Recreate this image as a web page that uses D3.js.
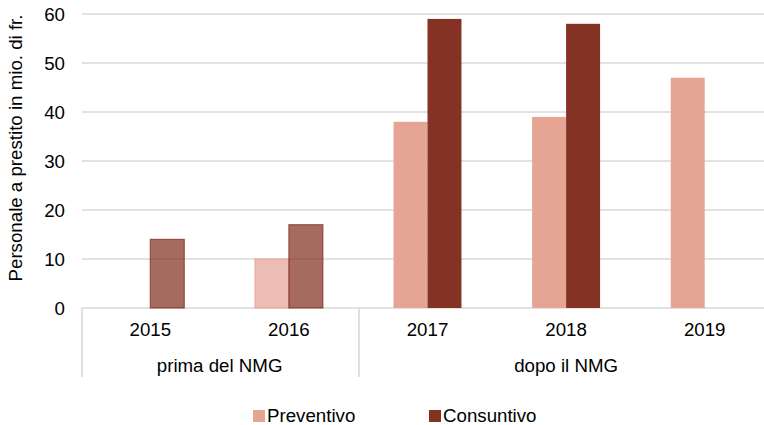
<!DOCTYPE html>
<html>
<head>
<meta charset="utf-8">
<script src="https://cdn.jsdelivr.net/npm/d3@7"></script>
<style>
  body { margin: 0; background: #fff; }
  text { font-family: "Liberation Sans", Arial, sans-serif; fill: #000; }
</style>
</head>
<body>
<svg id="chart" width="764" height="425"></svg>
<script>
// data
var years = ["2015", "2016", "2017", "2018", "2019"];
var groups = [
  { label: "prima del NMG", from: 0, to: 2 },
  { label: "dopo il NMG", from: 2, to: 5 }
];
var seriesNames = ["Preventivo", "Consuntivo"];
var preventivo = [null, 10, 38, 39, 47];
var consuntivo = [14, 17, 59, 58, null];
var yTicks = [0, 10, 20, 30, 40, 50, 60];
var fadedYears = ["2015", "2016"]; // drawn see-through in the original

var colors = { "Preventivo": "#e5a494", "Consuntivo": "#833223" };
var fontSize = 18.7;

var svg = d3.select("#chart");
var plotTop = 14, plotBottom = 308, plotLeft = 81, plotRight = 774;

var y = d3.scaleLinear().domain([0, 60]).range([plotBottom, plotTop]);
var x = d3.scaleBand().domain(years).range([plotLeft, plotRight])
  .paddingInner(0.51).paddingOuter(0.255);
var xs = d3.scaleBand().domain(seriesNames).range([0, x.bandwidth()]);

// gridlines
svg.append("g").selectAll("line")
  .data(yTicks)
  .enter().append("line")
  .attr("x1", 82).attr("x2", 764)
  .attr("y1", function(d) { return y(d); })
  .attr("y2", function(d) { return y(d); })
  .style("stroke", "#d9d9d9")
  .style("stroke-width", 1.6);

// y tick labels
svg.append("g").selectAll("text")
  .data(yTicks)
  .enter().append("text")
  .attr("x", 65)
  .attr("y", function(d) { return y(d); })
  .attr("dy", "0.35em")
  .attr("text-anchor", "end")
  .style("font-size", fontSize + "px")
  .text(function(d) { return d; });

// y axis title
svg.append("text")
  .attr("transform", "translate(22,148) rotate(-90)")
  .attr("text-anchor", "middle")
  .style("font-size", fontSize + "px")
  .text("Personale a prestito in mio. di fr.");

// bars
var rows = years.map(function(yr, i) {
  return { year: yr, values: [
    { name: "Preventivo", v: preventivo[i] },
    { name: "Consuntivo", v: consuntivo[i] }
  ] };
});

var cat = svg.append("g").selectAll("g")
  .data(rows)
  .enter().append("g")
  .attr("transform", function(d) { return "translate(" + x(d.year) + ",0)"; });

cat.selectAll("rect")
  .data(function(d) {
    return d.values.filter(function(s) { return s.v != null; })
      .map(function(s) { return { name: s.name, v: s.v, faded: fadedYears.indexOf(d.year) >= 0 }; });
  })
  .enter().append("rect")
  .attr("x", function(d) { return xs(d.name); })
  .attr("width", xs.bandwidth())
  .attr("y", function(d) { return y(d.v); })
  .attr("height", function(d) { return y(0) - y(d.v); })
  .style("fill", function(d) { return colors[d.name]; })
  .style("fill-opacity", function(d) { return d.faded ? 0.72 : 1; })
  .style("stroke", function(d) { return d.faded ? colors[d.name] : "none"; })
  .style("stroke-opacity", 0.75)
  .style("stroke-width", 1.2);

// category labels
svg.append("g").selectAll("text")
  .data(years)
  .enter().append("text")
  .attr("x", function(d) { return x(d) + x.bandwidth() / 2; })
  .attr("y", 336)
  .attr("text-anchor", "middle")
  .style("font-size", fontSize + "px")
  .text(function(d) { return d; });

// group separators and labels
var step = x.step();
var bounds = [0, 2, 5];
svg.append("g").selectAll("line")
  .data(bounds)
  .enter().append("line")
  .attr("x1", function(d) { return Math.round(plotLeft + d * step) + 1; })
  .attr("x2", function(d) { return Math.round(plotLeft + d * step) + 1; })
  .attr("y1", plotBottom).attr("y2", 377)
  .style("stroke", "#d9d9d9")
  .style("stroke-width", 1.6);

svg.append("g").selectAll("text")
  .data(groups)
  .enter().append("text")
  .attr("x", function(d) { return plotLeft + (d.from + d.to) / 2 * step; })
  .attr("y", 372)
  .attr("text-anchor", "middle")
  .style("font-size", fontSize + "px")
  .text(function(d) { return d.label; });

// legend
var legendX = [253, 429];
var legend = svg.append("g").selectAll("g")
  .data(seriesNames)
  .enter().append("g")
  .attr("transform", function(d, i) { return "translate(" + legendX[i] + ",410)"; });

legend.append("rect")
  .attr("width", 12).attr("height", 12)
  .style("fill", function(d) { return colors[d]; });

legend.append("text")
  .attr("x", 14).attr("y", 12)
  .style("font-size", fontSize + "px")
  .text(function(d) { return d; });
</script>
</body>
</html>
